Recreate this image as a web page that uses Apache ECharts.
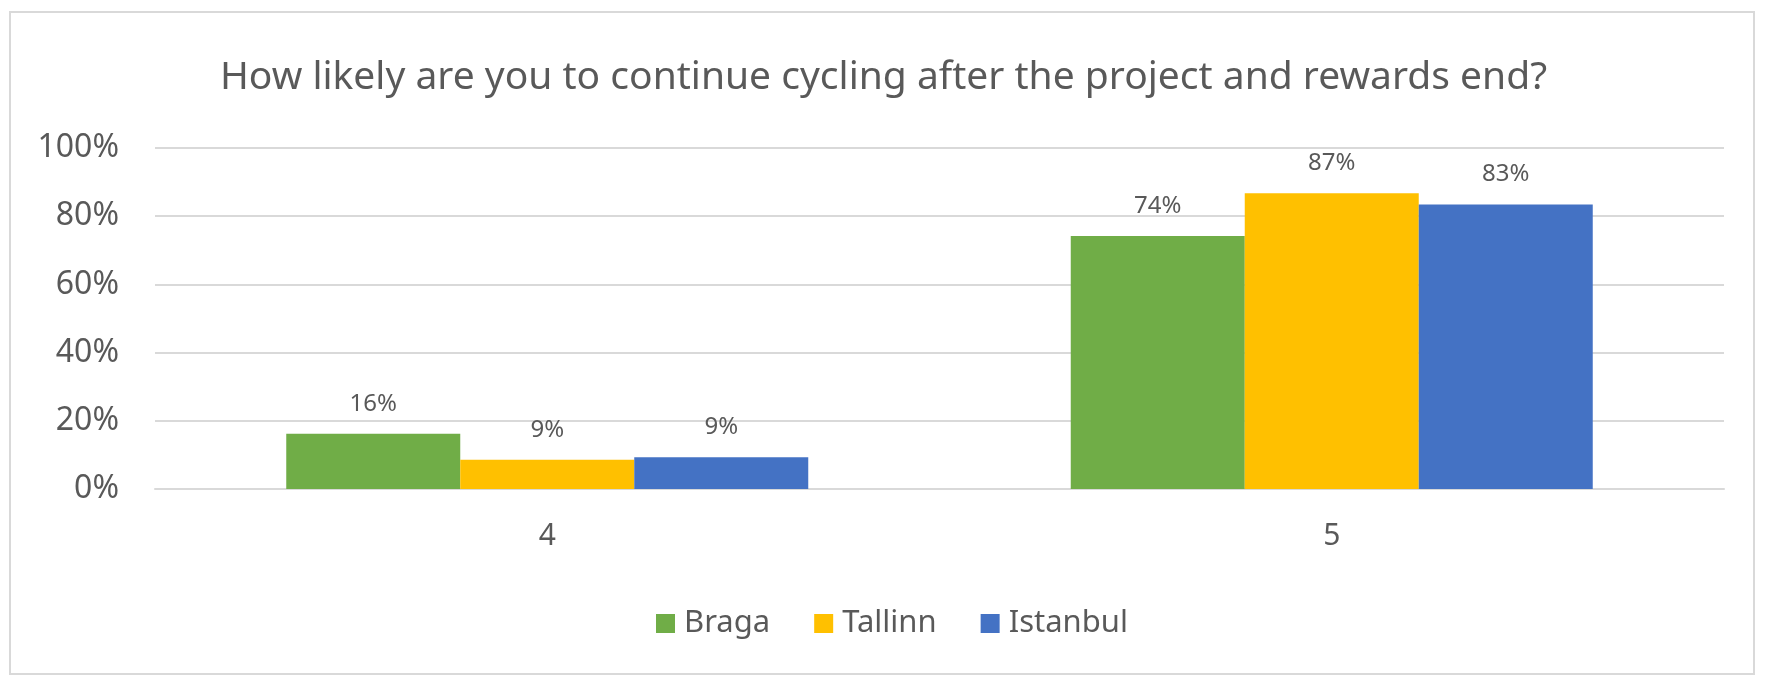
<!DOCTYPE html>
<html>
<head>
<meta charset="utf-8">
<script src="https://cdn.jsdelivr.net/npm/echarts@6/dist/echarts.min.js"></script>
<style>
  html, body { margin: 0; padding: 0; background: #fff; }
  #chart { width: 1767px; height: 676px; }
</style>
</head>
<body>
<div id="chart"></div>
<script>
// rating categories on the x axis
const ratings = ["4", "5"];

// share of answers per city (0..1)
const braga = [0.162, 0.742];
const tallinn = [0.086, 0.867];
const istanbul = [0.093, 0.834];

const cities = ["Braga", "Tallinn", "Istanbul"];
const cityColors = ["#70AD47", "#FFC000", "#4472C4"];

let chartDom = document.getElementById('chart');
var chart = echarts.init(chartDom);

const font = "Noto Sans";
const textColor = "#595959";

function barSeries(name, values, color) {
    return {
        name: name,
        type: "bar",
        data: values,
        barWidth: 174,
        barGap: "0%",
        itemStyle: { color: color },
        label: {
            show: true,
            position: "top",
            distance: 18,
            fontFamily: font,
            fontSize: 24,
            color: textColor,
            formatter: p => Math.round(p.value * 100) + "%"
        }
    };
}

const option = {
    animation: false,
    backgroundColor: "#fff",
    color: cityColors,
    title: {
        text: "How likely are you to continue cycling after the project and rewards end?",
        left: "center",
        top: 53,
        textStyle: {
            fontFamily: font,
            fontSize: 39,
            fontWeight: "normal",
            color: textColor
        }
    },
    // outer chart border
    graphic: [{
        type: "rect",
        shape: { x: 10, y: 12, width: 1744, height: 662 },
        style: { fill: "none", stroke: "#d9d9d9", lineWidth: 2 },
        silent: true
    }],
    legend: {
        data: cities,
        left: 651,
        top: 603,
        itemWidth: 19,
        itemHeight: 19,
        itemGap: 44,
        icon: "rect",
        textStyle: {
            fontFamily: font,
            fontSize: 31,
            color: textColor,
            padding: [0, 0, 0, 4]
        }
    },
    grid: {
        left: 155,
        right: 43,
        top: 148,
        bottom: 187
    },
    xAxis: {
        type: "category",
        data: ratings,
        axisTick: { show: false },
        axisLine: { lineStyle: { color: "#d9d9d9", width: 2 } },
        axisLabel: {
            margin: 32,
            fontFamily: font,
            fontSize: 30,
            color: textColor
        }
    },
    yAxis: {
        type: "value",
        min: 0,
        max: 1,
        interval: 0.2,
        axisLine: { show: false },
        axisTick: { show: false },
        splitLine: { lineStyle: { color: "#d9d9d9", width: 2 } },
        axisLabel: {
            margin: 36,
            fontFamily: font,
            fontSize: 32,
            color: textColor,
            formatter: v => Math.round(v * 100) + "%"
        }
    },
    series: [
        barSeries(cities[0], braga, cityColors[0]),
        barSeries(cities[1], tallinn, cityColors[1]),
        barSeries(cities[2], istanbul, cityColors[2])
    ]
};

chart.setOption(option);
</script>
</body>
</html>
